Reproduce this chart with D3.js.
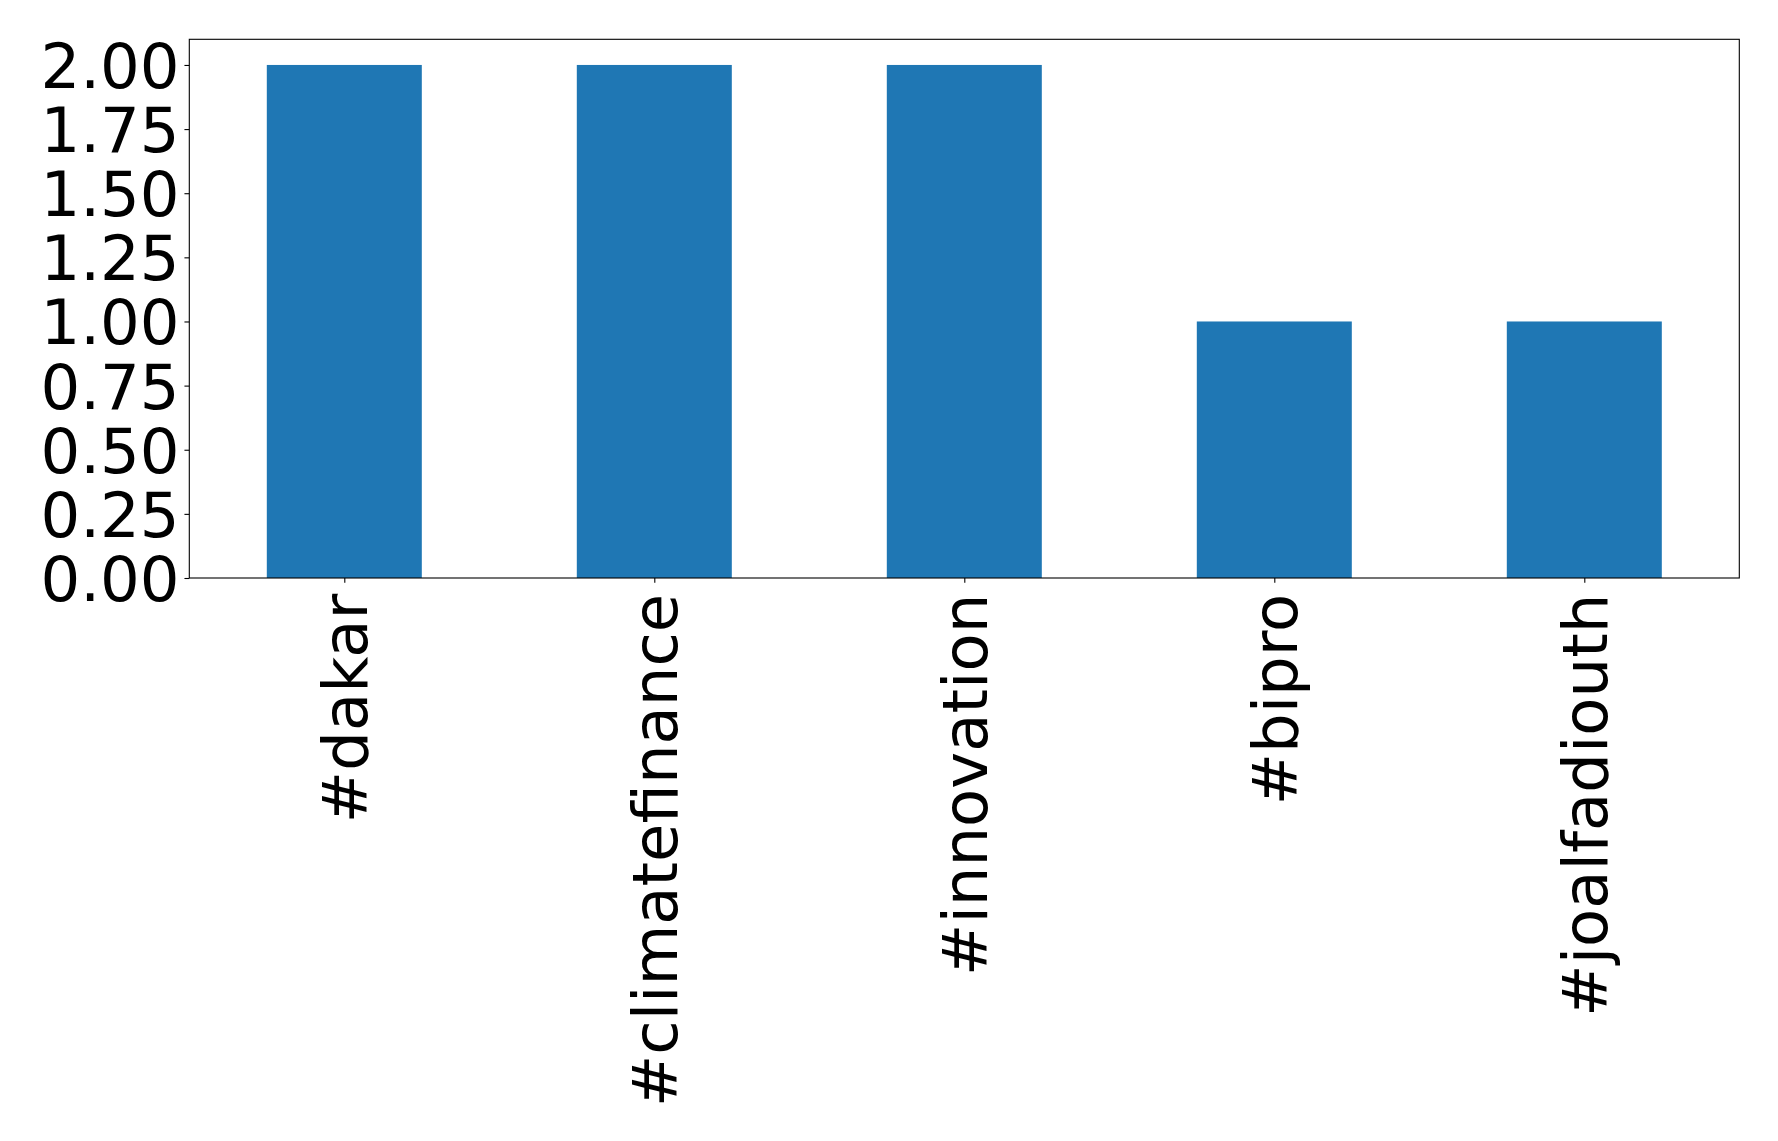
<!DOCTYPE html>
<html><head><meta charset="utf-8">
<script src="https://cdn.jsdelivr.net/npm/d3@7"></script>
<style>body{margin:0;background:#fff}svg{display:block}text{font-family:"DejaVu Sans",sans-serif}</style>
</head><body>
<svg id="c" width="1778" height="1141"></svg>
<script>
const categories = ["#dakar", "#climatefinance", "#innovation", "#bipro", "#joalfadiouth"];
const values = [2, 2, 2, 1, 1];
const yTicks = [0, 0.25, 0.5, 0.75, 1.0, 1.25, 1.5, 1.75, 2.0];

const L = 189.3, R = 1739.3, T = 39.3, B = 578;
const svg = d3.select("#c");
const x = d3.scaleLinear().domain([-0.5, categories.length - 0.5]).range([L, R]);
const y = d3.scaleLinear().domain([0, 2.1]).range([B, T]);
const fs = 62.5, tickLen = 4.86, pad = 4.86;

svg.selectAll("rect.bar").data(values).join("rect")
  .attr("class", "bar")
  .attr("x", (d, i) => x(i - 0.25))
  .attr("width", (d, i) => x(i + 0.25) - x(i - 0.25))
  .attr("y", d => y(d))
  .attr("height", d => y(0) - y(d))
  .attr("fill", "#1f77b4");

// y axis
const ya = svg.append("g").attr("transform", `translate(${L},0)`)
  .call(d3.axisLeft(y).tickValues(yTicks).tickFormat(d3.format(".2f")).tickSize(tickLen).tickPadding(pad));
ya.select(".domain").remove();
ya.selectAll("line").attr("stroke", "#000").attr("stroke-width", 1.1);
ya.selectAll("text").attr("font-size", fs).attr("fill", "#000").attr("font-family", "DejaVu Sans").attr("dy", "0.36em");

// x axis
const xa = svg.append("g").attr("transform", `translate(0,${B})`)
  .call(d3.axisBottom(x).tickValues(d3.range(categories.length)).tickFormat(i => categories[i]).tickSize(tickLen).tickPadding(pad));
xa.select(".domain").remove();
xa.selectAll("line").attr("stroke", "#000").attr("stroke-width", 1.1);
xa.selectAll("text")
  .attr("font-size", fs).attr("fill", "#000").attr("font-family", "DejaVu Sans")
  .attr("text-anchor", "end")
  .attr("transform", `translate(0,${tickLen + pad + 6}) rotate(-90)`)
  .attr("x", 0).attr("y", 0).attr("dy", "0.36em");

// frame
svg.append("rect").attr("x", L).attr("y", T).attr("width", R - L).attr("height", B - T)
  .attr("fill", "none").attr("stroke", "#000").attr("stroke-width", 1.1);
</script>
</body></html>
